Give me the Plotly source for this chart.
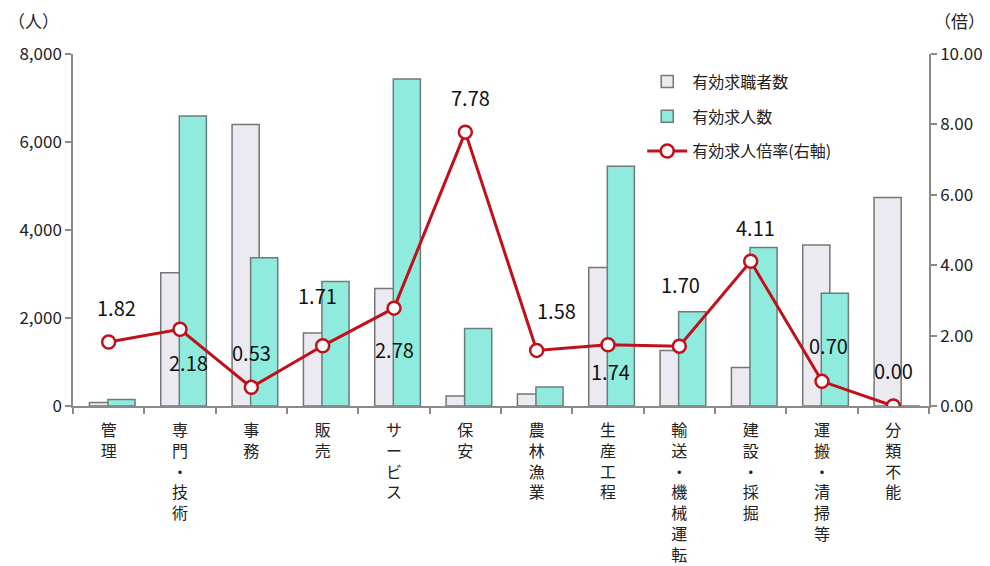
import plotly.graph_objects as go

categories = ["管理", "専門・技術", "事務", "販売", "サービス", "保安", "農林漁業",
              "生産工程", "輸送・機械運転", "建設・採掘", "運搬・清掃等", "分類不能"]
job_seekers = [80, 3030, 6400, 1660, 2670, 226, 270, 3150, 1260, 875, 3660, 4740]
job_offers = [150, 6590, 3370, 2830, 7430, 1760, 430, 5450, 2140, 3600, 2560, 0]
ratio = [1.82, 2.18, 0.53, 1.71, 2.78, 7.78, 1.58, 1.74, 1.70, 4.11, 0.70, 0.00]

# label offsets in pixels (styling only)
label_dx = [8, 8, 0, -5, 0, 5, 20, 2, 1, 5, 6, 0]
label_dy = [34, -33, 35, 50, -41, 35, 40, -27, 62, 34, 36, 36]

tick_text = ["<br>".join(list(c)) for c in categories]

FONT = "Noto Sans CJK JP"
AX = "#8a8a8a"

fig = go.Figure()
fig.add_trace(go.Bar(
    x=categories, y=job_seekers, name="有効求職者数", legendgroup="a",
    width=0.38, offset=-0.27,
    marker=dict(color="#ECEAF1", line=dict(color="#767676", width=1.5)),
))
fig.add_trace(go.Bar(
    x=categories, y=job_offers, name="有効求人数", legendgroup="b",
    width=0.38, offset=-0.01,
    marker=dict(color="#8FEBDD", line=dict(color="#6E7B7B", width=1.5)),
))
fig.add_trace(go.Scatter(
    x=categories, y=ratio, name="有効求人倍率(右軸)", yaxis="y2", legendgroup="c",
    mode="lines+markers",
    line=dict(color="#C0101A", width=3),
    marker=dict(size=13, color="white", line=dict(color="#C0101A", width=2.5)),
))

for c, r, dx, dy in zip(categories, ratio, label_dx, label_dy):
    fig.add_annotation(x=c, y=r, xref="x", yref="y2", text=f"{r:.2f}",
                       showarrow=False, xshift=dx, yshift=dy,
                       font=dict(family=FONT, size=20, color="#111"))

fig.add_annotation(x=0, y=1, xref="paper", yref="paper", xshift=-67, yshift=34,
                   xanchor="left", yanchor="middle", text="（人）", showarrow=False,
                   font=dict(family=FONT, size=17, color="#222"))
fig.add_annotation(x=1, y=1, xref="paper", yref="paper", xshift=3, yshift=34,
                   xanchor="left", yanchor="middle", text="（倍）", showarrow=False,
                   font=dict(family=FONT, size=17, color="#222"))

fig.update_layout(
    width=982, height=558,
    margin=dict(l=65, r=61, t=46, b=160),
    paper_bgcolor="white", plot_bgcolor="white",
    barmode="overlay",
    font=dict(family=FONT, size=16, color="#222"),
    showlegend=True,
    legend=dict(x=0.665, y=0.97, xanchor="left", yanchor="top",
                bgcolor="rgba(0,0,0,0)", font=dict(family=FONT, size=16, color="#222"),
                itemwidth=40, tracegroupgap=11),
    xaxis=dict(
        type="category", tickmode="array", tickvals=categories, ticktext=tick_text,
        range=[-0.5, 11.5], automargin=False,
        tickson="boundaries", ticks="outside", ticklen=6, tickcolor=AX, tickwidth=1.5,
        ticklabelstandoff=9,
        showline=True, linecolor=AX, linewidth=1.5, showgrid=False,
        tickfont=dict(family=FONT, size=16, color="#222"), tickangle=0,
    ),
    yaxis=dict(
        range=[0, 8000], dtick=2000, tickformat=",d", showgrid=False, automargin=False,
        showline=True, linecolor=AX, linewidth=1.5,
        ticks="outside", ticklen=6, tickcolor=AX, tickwidth=1.5,
        tickfont=dict(family=FONT, size=17, color="#222"), zeroline=False,
    ),
    yaxis2=dict(
        range=[0, 10], dtick=2, tickformat=".2f", overlaying="y", side="right",
        showgrid=False, showline=True, linecolor=AX, linewidth=1.5, automargin=False,
        ticks="outside", ticklen=6, tickcolor=AX, tickwidth=1.5,
        tickfont=dict(family=FONT, size=17, color="#222"), zeroline=False,
    ),
)

fig.write_html("out.html")
